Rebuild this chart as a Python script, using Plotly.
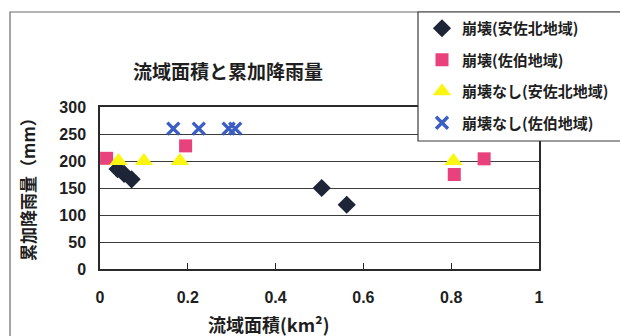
import plotly.graph_objects as go

# 流域面積 (km²) と累加降雨量 (mm)
asakita_fail_x = [0.04, 0.055, 0.072, 0.505, 0.562]
asakita_fail_y = [185, 176, 166, 150, 119]

saeki_fail_x = [0.015, 0.195, 0.807, 0.875]
saeki_fail_y = [205, 228, 175, 204]

asakita_safe_x = [0.042, 0.10, 0.182, 0.805]
asakita_safe_y = [200, 200, 200, 200]

saeki_safe_x = [0.167, 0.225, 0.293, 0.308]
saeki_safe_y = [260, 260, 260, 260]

series_names = ["崩壊(安佐北地域)", "崩壊(佐伯地域)", "崩壊なし(安佐北地域)", "崩壊なし(佐伯地域)"]
x_ticks = [0, 0.2, 0.4, 0.6, 0.8, 1]
x_tick_text = ["0", "0.2", "0.4", "0.6", "0.8", "1"]
y_ticks = [0, 50, 100, 150, 200, 250, 300]

JP = "Noto Sans CJK JP"
NUM = "Liberation Sans"
INK = "#1e1e1e"

# plot-area geometry in pixels, used to place paper-referenced items
L, R, T, B = 100, 539, 107, 269
W_PX, H_PX = R - L, B - T


def px(x):
    return (x - L) / W_PX


def py(y):
    return (B - y) / H_PX


fig = go.Figure()

styles = [
    dict(symbol="diamond", size=14, color="#1d2536"),
    dict(symbol="square", size=13, color="#e8417c"),
    dict(symbol="triangle-up", size=16, color="#fbf512"),
    dict(symbol="x-thin", size=12, color="#3a5ec4", line=dict(width=3.4, color="#3a5ec4")),
]
data = [
    (asakita_fail_x, asakita_fail_y),
    (saeki_fail_x, saeki_fail_y),
    (asakita_safe_x, asakita_safe_y),
    (saeki_safe_x, saeki_safe_y),
]

for i, ((xs, ys), name, st) in enumerate(zip(data, series_names, styles)):
    fig.add_trace(go.Scatter(
        x=xs, y=ys, mode="markers", name=name,
        legendgroup=f"g{i}",
        marker=st, cliponaxis=False,
    ))

# outer chart frame and the legend box
fig.add_shape(type="rect", xref="paper", yref="paper",
              x0=px(10), x1=px(640), y0=py(345), y1=py(12),
              line=dict(color="#6a6a6a", width=1.2), fillcolor="rgba(0,0,0,0)", layer="below")
fig.add_shape(type="rect", xref="paper", yref="paper",
              x0=px(418), x1=px(640), y0=py(141), y1=py(12),
              line=dict(color="#3a3a3a", width=1.2), fillcolor="white", layer="above")

fig.add_annotation(text="<b>流域面積と累加降雨量</b>", xref="paper", yref="paper",
                   x=px(228), y=py(70), xanchor="center", yanchor="middle", showarrow=False,
                   font=dict(family=JP, size=19, color=INK))
fig.add_annotation(text="<b>累加降雨量（mm）</b>", xref="paper", yref="paper",
                   x=px(27), y=py(185), xanchor="center", yanchor="middle",
                   showarrow=False, textangle=-90,
                   font=dict(family=JP, size=17, color=INK))
fig.add_annotation(text="<b>流域面積(km²)</b>", xref="paper", yref="paper",
                   x=px(268), y=py(324), xanchor="center", yanchor="middle", showarrow=False,
                   font=dict(family=JP, size=18, color=INK))

fig.update_xaxes(
    range=[0, 1], tickvals=x_ticks, ticktext=x_tick_text,
    showgrid=False, zeroline=False,
    showline=True, linecolor="#2a2a2a", linewidth=1.5, mirror=True,
    ticks="inside", ticklen=6, tickcolor="#2a2a2a", tickwidth=1,
    ticklabelstandoff=13,
    tickfont=dict(family=NUM, size=16, color=INK, weight="bold"),
)
fig.update_yaxes(
    range=[0, 300], tickvals=y_ticks,
    showgrid=True, gridcolor="#3c3c3c", gridwidth=1, zeroline=False,
    showline=True, linecolor="#2a2a2a", linewidth=1.5, mirror=True,
    ticks="", ticklabelstandoff=9,
    tickfont=dict(family=NUM, size=16, color=INK, weight="bold"),
)

fig.update_layout(
    width=620, height=336,
    margin=dict(l=L, r=620 - R, t=T, b=336 - B, autoexpand=False),
    paper_bgcolor="white", plot_bgcolor="white",
    legend=dict(
        x=px(422), y=py(12), xanchor="left", yanchor="top",
        bgcolor="rgba(0,0,0,0)", borderwidth=0,
        tracegroupgap=9, itemwidth=30,
        font=dict(family=JP, size=15, color=INK, weight="bold"),
    ),
    showlegend=True,
)

fig.write_html("out.html")
